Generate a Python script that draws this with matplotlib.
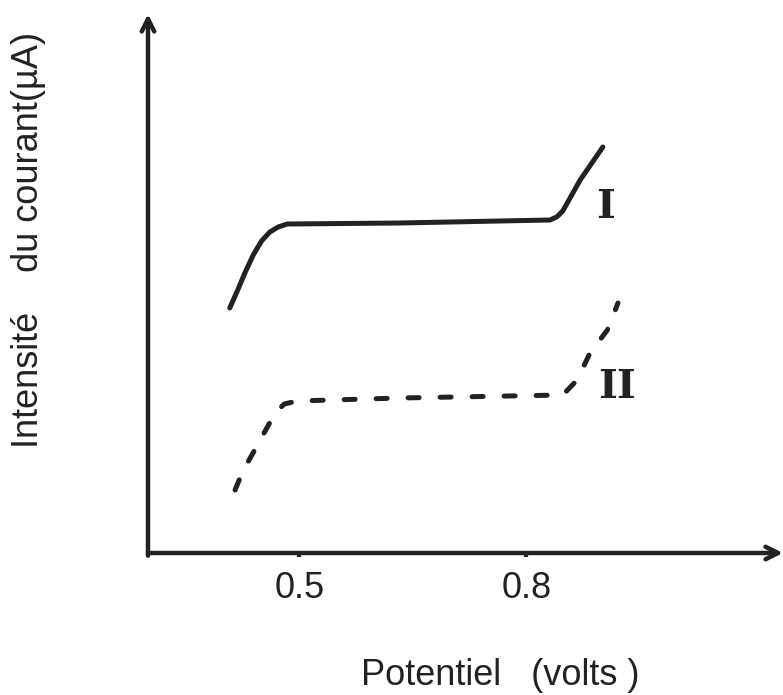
import matplotlib
matplotlib.use("Agg")
import matplotlib.pyplot as plt

# courbe I (trait plein)
pot_I = [0.408, 0.418, 0.428, 0.439, 0.450, 0.461, 0.472, 0.484, 0.633, 0.831, 0.840,
         0.848, 0.871, 0.901]
int_I = [2.45, 2.62, 2.80, 2.98, 3.12, 3.21, 3.26, 3.29, 3.30, 3.33, 3.36, 3.42,
         3.73, 4.06]

# courbe II (tirets)
pot_II = [0.415, 0.426, 0.441, 0.457, 0.468, 0.480, 0.497, 0.633, 0.848, 0.867, 0.884,
          0.907, 0.921]
int_II = [0.63, 0.83, 1.03, 1.25, 1.40, 1.49, 1.52, 1.55, 1.58, 1.73, 2.00, 2.23, 2.50]

ticks = [0.5, 0.8]
tick_labels = ["0.5", "0.8"]
curve_names = ["I", "II"]
name_pos = [(0.905, 3.46), (0.920, 1.66)]

ink = "#222222"
W, H = 783, 695
fig = plt.figure(figsize=(W / 100, H / 100), dpi=100)
fig.patch.set_facecolor("white")
ax = fig.add_axes([148 / W, (H - 553) / H, (W - 148) / W, (553 - 14) / H])
ax.set_xlim(0.3, 1.139)
ax.set_ylim(0, 5.39)
for s in ax.spines.values():
    s.set_visible(False)

# axes avec fleches
arrow = dict(arrowstyle="->,head_length=0.9,head_width=0.45", lw=3.2, color=ink,
             shrinkA=0, shrinkB=0)
ax.annotate("", xy=(1, 0), xytext=(0, 0), xycoords="axes fraction",
            arrowprops=arrow, annotation_clip=False)
ax.annotate("", xy=(0, 1), xytext=(0, -0.005), xycoords="axes fraction",
            arrowprops=arrow, annotation_clip=False)

ax.plot(pot_I, int_I, color=ink, lw=3.6, solid_capstyle="round",
        solid_joinstyle="round")
ax.plot(pot_II, int_II, color=ink, lw=3.6, dashes=(2.2, 4.2),
        dash_capstyle="round")

for name, (x, y) in zip(curve_names, name_pos):
    ax.text(x, y, name, fontsize=29, family="DejaVu Serif", weight="bold",
            color=ink, ha="center", va="center")

ax.set_yticks([])
ax.set_xticks(ticks)
ax.set_xticklabels(tick_labels, family="Liberation Sans", fontsize=26, color=ink)
ax.tick_params(axis="x", length=3, width=3, color=ink, pad=10)

ax.set_xlabel("Potentiel   (volts )", family="Liberation Sans", fontsize=26,
              color=ink)
ax.xaxis.set_label_coords(0.554, -0.195)
ax.set_ylabel("Intensité    du courant(µA)", family="Liberation Sans",
              fontsize=26, color=ink)
ax.yaxis.set_label_coords(-0.16, 0.58)

fig.savefig("out.png", dpi=100, facecolor="white")
